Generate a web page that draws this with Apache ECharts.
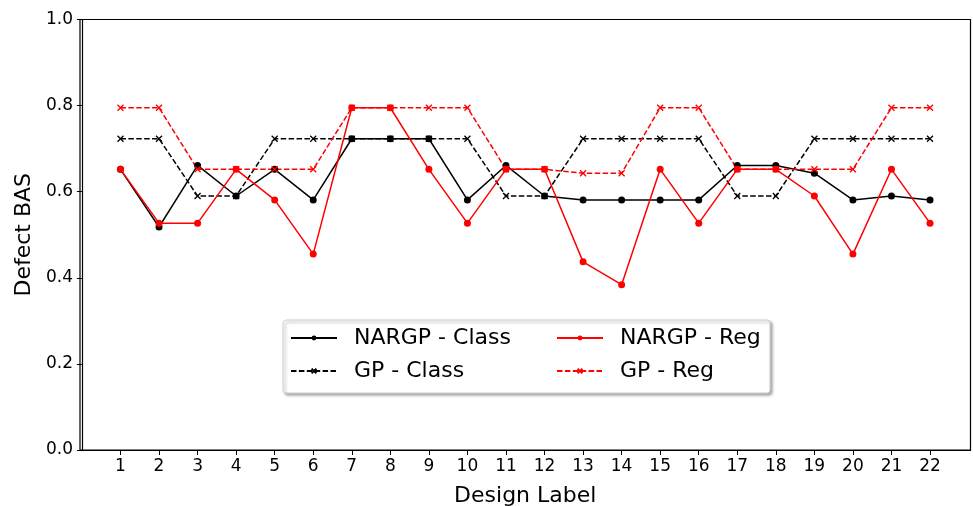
<!DOCTYPE html>
<html><head><meta charset="utf-8">
<script src="https://cdn.jsdelivr.net/npm/echarts@6/dist/echarts.min.js"></script>
<style>html,body{margin:0;padding:0;background:#fff}#c{width:973px;height:506px}</style>
</head><body><div id="c"></div>
<script>
const designLabels = [1,2,3,4,5,6,7,8,9,10,11,12,13,14,15,16,17,18,19,20,21,22];
const yTicks = [0, 0.2, 0.4, 0.6, 0.8, 1.0];
const nargpClass = [0.652,0.518,0.661,0.590,0.652,0.581,0.723,0.723,0.723,0.581,0.661,0.590,0.581,0.581,0.581,0.581,0.661,0.661,0.643,0.581,0.590,0.581];
const gpClass    = [0.723,0.723,0.590,0.590,0.723,0.723,0.723,0.723,0.723,0.723,0.590,0.590,0.723,0.723,0.723,0.723,0.590,0.590,0.723,0.723,0.723,0.723];
const nargpReg   = [0.652,0.527,0.527,0.652,0.581,0.455,0.795,0.795,0.652,0.527,0.652,0.652,0.437,0.384,0.652,0.527,0.652,0.652,0.590,0.455,0.652,0.527];
const gpReg      = [0.795,0.795,0.652,0.652,0.652,0.652,0.795,0.795,0.795,0.795,0.652,0.652,0.643,0.643,0.795,0.795,0.652,0.652,0.652,0.652,0.795,0.795];
const seriesNames = ['NARGP - Class','GP - Class','NARGP - Reg','GP - Reg'];

const FONT = 'DejaVu Sans';
const XSYM = 'path://M0,0L10,10M10,0L0,10';
const pts = arr => designLabels.map((d,i)=>[d, arr[i]]);
const dash = [5.5, 2.4];

function mk(name, data, color, dashed) {
  return {
    name, type:'line', data: pts(data),
    symbol: dashed ? XSYM : 'circle',
    symbolSize: dashed ? 6 : 7,
    showSymbol: true,
    lineStyle: { color, width: 1.5, type: dashed ? dash : 'solid' },
    itemStyle: { color: dashed ? 'rgba(0,0,0,0)' : color, borderColor: color, borderWidth: dashed ? 1.3 : 0 },
    emphasis: { disabled: true },
    animation: false, z: 2
  };
}

const legendCommon = {
  orient: 'vertical', padding: 0, itemWidth: 46, itemHeight: 6, itemGap: 9, z: 5, top: 326,
  textStyle: { fontFamily: FONT, fontSize: 22, color: '#000', lineHeight: 24, padding: [0,0,0,12] }
};

const chart = echarts.init(document.getElementById('c'), null, {renderer:'canvas'});
chart.setOption({
  animation: false,
  grid: { left: 80, right: 2.5, top: 19.5, bottom: 56, outerBoundsMode: 'none', containLabel: false, show: true, borderColor: '#000', borderWidth: 1.2, backgroundColor: 'transparent' },
  xAxis: {
    type: 'value', min: -0.05, max: 23.05,
    name: 'Design Label', nameLocation: 'middle', nameGap: 35,
    nameTextStyle: { fontFamily: FONT, fontSize: 22, color: '#000' },
    axisLine: { lineStyle: { color: '#000', width: 1.2 } },
    axisTick: { customValues: designLabels, inside: false, length: 5, lineStyle: { color: '#000' } },
    axisLabel: { customValues: designLabels, fontFamily: FONT, fontSize: 17, color: '#000', margin: 8 },
    splitLine: { show: false }
  },
  yAxis: {
    type: 'value', min: 0, max: 1, interval: 0.2,
    name: 'Defect BAS', nameLocation: 'middle', nameGap: 43,
    nameTextStyle: { fontFamily: FONT, fontSize: 22, color: '#000' },
    axisLine: { show: true, lineStyle: { color: '#000', width: 1.2 } },
    axisTick: { show: true, inside: false, length: 5, lineStyle: { color: '#000' } },
    axisLabel: { customValues: yTicks, fontFamily: FONT, fontSize: 17, color: '#000', margin: 7, formatter: v => v.toFixed(1) },
    splitLine: { show: false }
  },
  graphic: [{
    type: 'rect', z: 3, shape: { x: 283, y: 320, width: 487, height: 73, r: 3 },
    style: { fill: '#fff', stroke: '#d0d0d0', lineWidth: 1, shadowBlur: 3, shadowOffsetX: 2, shadowOffsetY: 2, shadowColor: 'rgba(0,0,0,0.35)' }
  }],
  legend: [
    Object.assign({ data: [seriesNames[0], seriesNames[1]], left: 290 }, legendCommon),
    Object.assign({ data: [seriesNames[2], seriesNames[3]], left: 556 }, legendCommon)
  ],
  series: [
    mk(seriesNames[0], nargpClass, '#000', false),
    mk(seriesNames[1], gpClass, '#000', true),
    mk(seriesNames[2], nargpReg, '#ff0000', false),
    mk(seriesNames[3], gpReg, '#ff0000', true)
  ]
});
</script></body></html>
